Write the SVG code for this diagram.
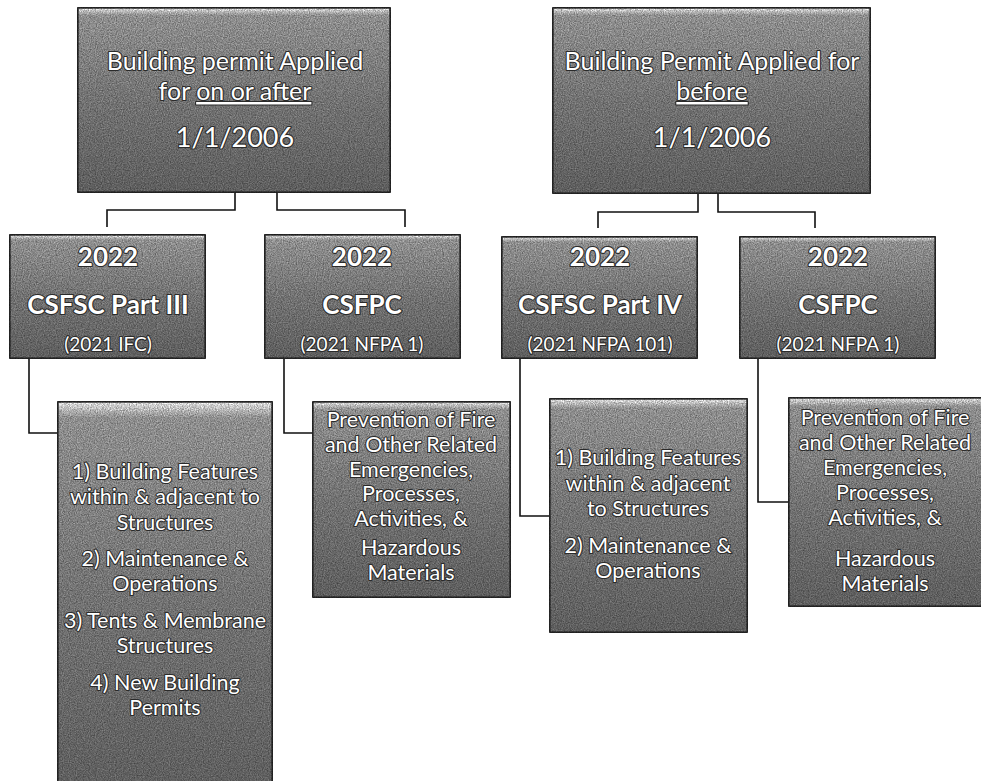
<svg xmlns="http://www.w3.org/2000/svg" width="981" height="781" viewBox="0 0 981 781">
<style>
.box{fill:url(#g);stroke:#2e2e2e;stroke-width:1.5;filter:url(#tex)}
.t{font-family:Lato,"Open Sans","Liberation Sans",sans-serif;fill:#fff;stroke:#2a2a2a;stroke-width:2.2;stroke-linejoin:round;paint-order:stroke;text-anchor:middle}
.big{font-size:25px}
.date{font-size:27px}
.hd{font-size:26px;font-weight:bold}
.sub{font-size:19px}
.bd{font-size:21.5px}
.c{fill:none;stroke:#111;stroke-width:1.6}
</style>
<defs>
<linearGradient id="g" x1="0" y1="0" x2="0" y2="1">
<stop offset="0" stop-color="#e0e0e0"/>
<stop offset="0.04" stop-color="#8e8e8e"/>
<stop offset="0.5" stop-color="#727272"/>
<stop offset="1" stop-color="#5e5e5e"/>
</linearGradient>
<filter id="tex" x="-0.02" y="-0.02" width="1.04" height="1.04" color-interpolation-filters="sRGB">
<feTurbulence type="fractalNoise" baseFrequency="0.85" numOctaves="2" seed="3" result="n"/>
<feColorMatrix in="n" type="matrix" values="1 0 0 0 0  1 0 0 0 0  1 0 0 0 0  0 0 0 0 1" result="ng"/>
<feComposite in="SourceGraphic" in2="ng" operator="arithmetic" k1="0.9" k2="0.55" k3="0" k4="0"/>
</filter>
</defs>
<g id="connectors">
<path class="c" d="M235,192 V210 H107 V227"/>
<path class="c" d="M277,192 V210 H405 V227"/>
<path class="c" d="M698,193 V212 H598 V228"/>
<path class="c" d="M718,193 V212 H815 V228"/>
<path class="c" d="M29,358 V433 H58"/>
<path class="c" d="M284,358 V433 H313"/>
<path class="c" d="M520,358 V516 H550"/>
<path class="c" d="M758,358 V502 H789"/>
</g>
<g id="after">
<rect class="box" x="78" y="8" width="312" height="184"/>
<text class="t big" x="235" y="70">Building permit Applied</text>
<text class="t big" x="235" y="100">for <tspan text-decoration="underline">on or after</tspan></text>
<text class="t date" x="235" y="147">1/1/2006</text>
</g>
<g id="before">
<rect class="box" x="553" y="8" width="317" height="185"/>
<text class="t big" x="712" y="70">Building Permit Applied for</text>
<text class="t big" x="712" y="100"><tspan text-decoration="underline">before</tspan></text>
<text class="t date" x="712" y="147">1/1/2006</text>
</g>
<g id="partIII">
<rect class="box" x="10" y="235" width="195" height="123"/>
<text class="t hd" x="108" y="266">2022</text>
<text class="t hd" x="108" y="314">CSFSC Part III</text>
<text class="t sub" x="108" y="351">(2021 IFC)</text>
</g>
<g id="csfpc1">
<rect class="box" x="265" y="235" width="195" height="123"/>
<text class="t hd" x="362" y="266">2022</text>
<text class="t hd" x="362" y="314">CSFPC</text>
<text class="t sub" x="362" y="351">(2021 NFPA 1)</text>
</g>
<g id="partIV">
<rect class="box" x="502" y="237" width="195" height="121"/>
<text class="t hd" x="600" y="266">2022</text>
<text class="t hd" x="600" y="314">CSFSC Part IV</text>
<text class="t sub" x="600" y="351">(2021 NFPA 101)</text>
</g>
<g id="csfpc2">
<rect class="box" x="740" y="237" width="195" height="121"/>
<text class="t hd" x="838" y="266">2022</text>
<text class="t hd" x="838" y="314">CSFPC</text>
<text class="t sub" x="838" y="351">(2021 NFPA 1)</text>
</g>
<g id="list1">
<rect class="box" x="58" y="402" width="214" height="392"/>
<text class="t bd" x="165" y="479">1) Building Features</text>
<text class="t bd" x="165" y="504">within &amp; adjacent to</text>
<text class="t bd" x="165" y="530">Structures</text>
<text class="t bd" x="165" y="566">2) Maintenance &amp;</text>
<text class="t bd" x="165" y="591">Operations</text>
<text class="t bd" x="165" y="628">3) Tents &amp; Membrane</text>
<text class="t bd" x="165" y="653">Structures</text>
<text class="t bd" x="165" y="690">4) New Building</text>
<text class="t bd" x="165" y="715">Permits</text>
</g>
<g id="prev1">
<rect class="box" x="313" y="402" width="197" height="195"/>
<text class="t bd" x="411" y="427">Prevention of Fire</text>
<text class="t bd" x="411" y="452">and Other Related</text>
<text class="t bd" x="411" y="477">Emergencies,</text>
<text class="t bd" x="411" y="501">Processes,</text>
<text class="t bd" x="411" y="526">Activities, &amp;</text>
<text class="t bd" x="411" y="555">Hazardous</text>
<text class="t bd" x="411" y="580">Materials</text>
</g>
<g id="list2">
<rect class="box" x="550" y="399" width="197" height="233"/>
<text class="t bd" x="648" y="465">1) Building Features</text>
<text class="t bd" x="648" y="491">within &amp; adjacent</text>
<text class="t bd" x="648" y="516">to Structures</text>
<text class="t bd" x="648" y="553">2) Maintenance &amp;</text>
<text class="t bd" x="648" y="578">Operations</text>
</g>
<g id="prev2">
<rect class="box" x="789" y="398" width="195" height="208"/>
<text class="t bd" x="885" y="425">Prevention of Fire</text>
<text class="t bd" x="885" y="450">and Other Related</text>
<text class="t bd" x="885" y="475">Emergencies,</text>
<text class="t bd" x="885" y="500">Processes,</text>
<text class="t bd" x="885" y="525">Activities, &amp;</text>
<text class="t bd" x="885" y="566">Hazardous</text>
<text class="t bd" x="885" y="591">Materials</text>
</g>
</svg>
